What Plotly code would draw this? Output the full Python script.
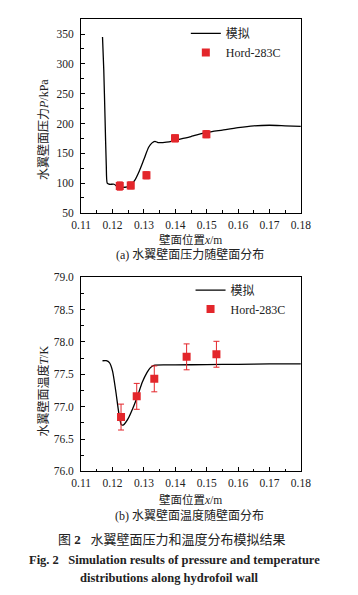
import plotly.graph_objects as go

# ---- data: pressure (a) ----
p_line_x = [0.1168, 0.1172, 0.1176, 0.1180, 0.1183, 0.1190, 0.1205, 0.1215, 0.1225, 0.1240, 0.1255,
            0.1270, 0.1285, 0.1300, 0.1315, 0.1325, 0.1335, 0.1345, 0.1360, 0.1380, 0.1400,
            0.1450, 0.1500, 0.1550, 0.1600, 0.1650, 0.1700, 0.1750, 0.1800]
p_line_y = [345, 290, 210, 130, 100, 98, 98, 94, 93, 93, 95,
            104, 120, 140, 160, 167, 170, 168, 168, 169, 172,
            178, 185, 189, 193, 196, 197, 196, 195]
p_exp_x = [0.1223, 0.1258, 0.1308, 0.1399, 0.1499]
p_exp_y = [95, 96, 113, 175, 182]
p_exp_err = [7, 6, 6, 6, 6]

# ---- data: temperature (b) ----
t_line_x = [0.1168, 0.1180, 0.1190, 0.1200, 0.1210, 0.1220, 0.1228, 0.1235, 0.1250, 0.1265,
            0.1280, 0.1295, 0.1310, 0.1320, 0.1332, 0.1400, 0.1500, 0.1600, 0.1700, 0.1800]
t_line_y = [77.71, 77.71, 77.68, 77.55, 77.25, 76.90, 76.72, 76.72, 76.82, 76.98,
            77.17, 77.38, 77.53, 77.60, 77.64, 77.645, 77.65, 77.655, 77.66, 77.66]
t_exp_x = [0.1227, 0.1277, 0.1333, 0.1436, 0.1531]
t_exp_y = [76.84, 77.16, 77.43, 77.77, 77.81]
t_exp_err = [0.2, 0.2, 0.2, 0.2, 0.2]

x_ticks = [0.11, 0.12, 0.13, 0.14, 0.15, 0.16, 0.17, 0.18]
x_tick_text = ["0.11", "0.12", "0.13", "0.14", "0.15", "0.16", "0.17", "0.18"]
p_ticks = [50, 100, 150, 200, 250, 300, 350]
t_ticks = [76.0, 76.5, 77.0, 77.5, 78.0, 78.5, 79.0]
t_tick_text = ["76.0", "76.5", "77.0", "77.5", "78.0", "78.5", "79.0"]

OFF = 8  # default page body margin
W, H = 358 - OFF, 595 - OFF
RED = "#e3262b"
SERIF = "Liberation Serif, Times New Roman, serif"
CJK = "Liberation Serif, Noto Sans CJK SC, serif"

def py(pix):
    return 1 - (pix - OFF) / H

def px(pix):
    return (pix - OFF) / W

fig = go.Figure()

fig.add_trace(go.Scatter(x=p_line_x, y=p_line_y, mode="lines", name="模拟",
                         line=dict(color="black", width=1.3, shape="spline", smoothing=0.6),
                         xaxis="x", yaxis="y", legend="legend"))
fig.add_trace(go.Scatter(x=p_exp_x, y=p_exp_y, mode="markers", name="Hord-283C",
                         marker=dict(color=RED, symbol="square", size=8),
                         error_y=dict(type="data", array=p_exp_err, color=RED, thickness=1, width=3),
                         xaxis="x", yaxis="y", legend="legend"))
fig.add_trace(go.Scatter(x=t_line_x, y=t_line_y, mode="lines", name="模拟",
                         line=dict(color="black", width=1.3, shape="spline", smoothing=0.6),
                         xaxis="x2", yaxis="y2", legend="legend2"))
fig.add_trace(go.Scatter(x=t_exp_x, y=t_exp_y, mode="markers", name="Hord-283C",
                         marker=dict(color=RED, symbol="square", size=8),
                         error_y=dict(type="data", array=t_exp_err, color=RED, thickness=1, width=3),
                         xaxis="x2", yaxis="y2", legend="legend2"))

xdom = [px(75), px(308)]
axis_common = dict(showline=True, linecolor="black", linewidth=1, mirror=True,
                   ticks="inside", ticklen=4, tickwidth=1, tickcolor="black",
                   showgrid=False, zeroline=False,
                   tickfont=dict(family=SERIF, size=11.5, color="#222"))

fig.update_layout(
    width=W, height=H, margin=dict(l=0, r=0, t=0, b=0),
    paper_bgcolor="white", plot_bgcolor="white",
    xaxis=dict(domain=xdom, range=[0.11, 0.18], tickvals=x_ticks, ticktext=x_tick_text,
               minor=dict(dtick=0.005, tick0=0.11, ticks="inside", ticklen=2.5, tickcolor="black"),
               anchor="y", ticklabelstandoff=1, **axis_common),
    yaxis=dict(domain=[py(211), py(13.3)], range=[50, 375], tickvals=p_ticks,
               minor=dict(dtick=25, tick0=50, ticks="inside", ticklen=2.5, tickcolor="black"),
               anchor="x", ticklabelstandoff=4, **axis_common),
    xaxis2=dict(domain=xdom, range=[0.11, 0.18], tickvals=x_ticks, ticktext=x_tick_text,
                minor=dict(dtick=0.005, tick0=0.11, ticks="inside", ticklen=2.5, tickcolor="black"),
                anchor="y2", ticklabelstandoff=1, **axis_common),
    yaxis2=dict(domain=[py(475), py(276.7)], range=[76.0, 79.0], tickvals=t_ticks, ticktext=t_tick_text,
                minor=dict(dtick=0.25, tick0=76.0, ticks="inside", ticklen=2.5, tickcolor="black"),
                anchor="x2", ticklabelstandoff=4, **axis_common),
    legend=dict(x=px(186), y=py(13), xanchor="left", yanchor="top", bgcolor="rgba(0,0,0,0)",
                font=dict(family=CJK, size=12, color="#222"), tracegroupgap=0, itemwidth=30),
    legend2=dict(x=px(191), y=py(275), xanchor="left", yanchor="top", bgcolor="rgba(0,0,0,0)",
                 font=dict(family=CJK, size=12, color="#222"), tracegroupgap=0, itemwidth=30),
    showlegend=True,
)

def ann(text, x, y, size=12, angle=0, family=CJK, color="#222"):
    fig.add_annotation(text=text, x=px(x), y=py(y), xref="paper", yref="paper",
                       showarrow=False, textangle=angle, xanchor="center", yanchor="middle",
                       font=dict(family=family, size=size, color=color))

ann("水翼壁面压力<i>P</i>/kPa", 35, 126, angle=-90)
ann("水翼壁面温度<i>T</i>/K", 35, 393, angle=-90)
ann("壁面位置<i>x</i>/m", 191, 238, size=11.5)
ann("(a) 水翼壁面压力随壁面分布", 190, 254)
ann("壁面位置<i>x</i>/m", 191, 504, size=11.5)
ann("(b) 水翼壁面温度随壁面分布", 190, 520)
ann("图 <b>2</b>   水翼壁面压力和温度分布模拟结果", 171, 544, size=13)
ann("<b>Fig. 2   Simulation results of pressure and temperature</b>", 174, 565, size=12.5, family=SERIF)
ann("<b>distributions along hydrofoil wall</b>", 168, 584, size=12.5, family=SERIF)

fig.write_html("out.html")
